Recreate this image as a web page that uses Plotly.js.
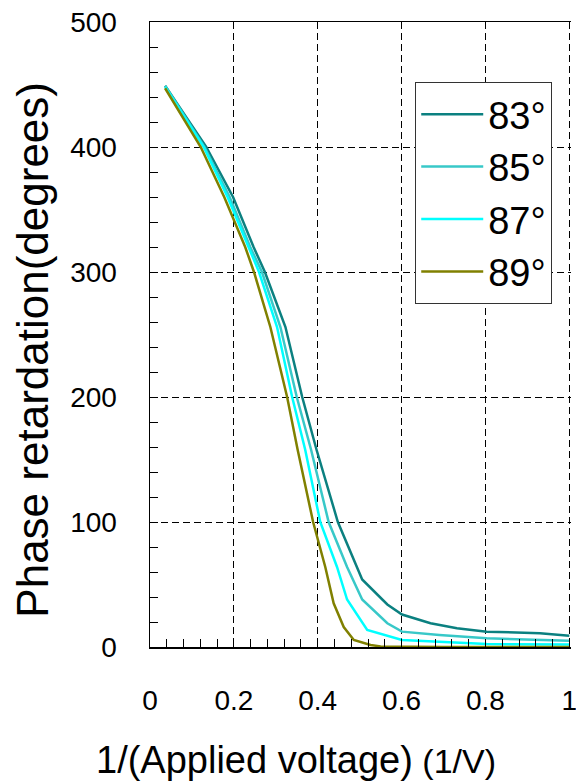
<!DOCTYPE html>
<html>
<head>
<meta charset="utf-8">
<script src="https://cdn.plot.ly/plotly-3.0.1.min.js"></script>
<style>html,body{margin:0;padding:0;background:#fff;}#chart{width:576px;height:782px;}</style>
</head>
<body>
<div id="chart"></div>
<script>
// Series names
const seriesNames = ["83°", "85°", "87°", "89°"];

// 83° curve
const x83 = [0.036, 0.080, 0.134, 0.198, 0.247, 0.274, 0.323, 0.363, 0.397, 0.448, 0.494, 0.506, 0.566, 0.601, 0.669, 0.732, 0.803, 0.930, 1.000];
const y83 = [449, 427, 400, 360, 320, 300, 256, 200, 158, 100, 64, 54, 34, 26, 19, 15, 12.3, 11, 9];

// 85° curve
const x85 = [0.036, 0.080, 0.130, 0.190, 0.239, 0.267, 0.311, 0.350, 0.384, 0.426, 0.470, 0.506, 0.566, 0.601, 0.690, 0.803, 1.000];
const y85 = [449, 426, 400, 360, 320, 300, 256, 200, 158, 100, 64, 38, 19, 12.3, 9.6, 7, 5];

// 87° curve
const x87 = [0.036, 0.080, 0.128, 0.185, 0.235, 0.260, 0.303, 0.339, 0.370, 0.406, 0.446, 0.470, 0.518, 0.601, 0.803, 1.000];
const y87 = [448, 425, 400, 360, 320, 300, 256, 200, 158, 100, 64, 38, 13.6, 5.6, 2.4, 2];

// 89° curve
const x89 = [0.036, 0.080, 0.121, 0.177, 0.227, 0.248, 0.287, 0.327, 0.352, 0.389, 0.418, 0.438, 0.462, 0.486, 0.526, 0.550, 0.700, 1.000];
const y89 = [447, 423, 400, 360, 320, 300, 256, 200, 158, 100, 64, 35, 16, 5.6, 1.6, 0.5, 0, 0];

const colors = ["#0b8080", "#38c8c8", "#00ffff", "#808000"];

const xTickVals = [0, 0.2, 0.4, 0.6, 0.8, 1];
const xTickText = ["0", "0.2", "0.4", "0.6", "0.8", "1"];
const yTickVals = [0, 100, 200, 300, 400, 500];
const yTickText = ["0", "100", "200", "300", "400", "500"];

const xTitle = "1/(Applied voltage)";
const xTitleUnit = "(1/V)";
const yTitle = "Phase retardation(degrees)";

const xs = [x83, x85, x87, x89];
const ys = [y83, y85, y87, y89];

const traces = seriesNames.map((n, i) => ({
  type: "scatter",
  mode: "lines",
  name: n,
  x: xs[i],
  y: ys[i],
  line: {color: colors[i], width: 2.5},
  legendgroup: "g" + i
}));

const font = "Liberation Sans, Arial, sans-serif";

const layout = {
  width: 576,
  height: 782,
  margin: {l: 150, r: 5, t: 22, b: 135},
  paper_bgcolor: "#ffffff",
  plot_bgcolor: "#ffffff",
  font: {family: font, color: "#000"},
  showlegend: true,
  legend: {
    x: 0.63, y: 0.904, xanchor: "left", yanchor: "top",
    bgcolor: "#ffffff",
    bordercolor: "#333333",
    borderwidth: 1,
    font: {family: font, size: 38, color: "#000"},
    itemwidth: 62,
    traceorder: "grouped",
    tracegroupgap: 0
  },
  xaxis: {
    range: [0, 1.004],
    tickvals: xTickVals,
    ticktext: xTickText,
    ticks: "inside",
    ticklen: 8,
    tickcolor: "#000",
    minor: {dtick: 0.04, ticks: "inside", ticklen: 8, tickcolor: "#000", showgrid: false},
    showline: true,
    linecolor: "#000",
    linewidth: 1.5,
    mirror: true,
    showgrid: true,
    gridcolor: "#000",
    gridwidth: 1,
    griddash: "7px,4px",
    zeroline: false,
    tickfont: {family: font, size: 28, color: "#000"},
    ticklabelstandoff: 28,
    ticklabeloverflow: "allow"
  },
  yaxis: {
    range: [0, 500],
    tickvals: yTickVals,
    ticktext: yTickText,
    ticks: "inside",
    ticklen: 8,
    tickcolor: "#000",
    minor: {dtick: 20, ticks: "inside", ticklen: 8, tickcolor: "#000", showgrid: false},
    showline: true,
    linecolor: "#000",
    linewidth: 1.5,
    mirror: false,
    showgrid: true,
    gridcolor: "#000",
    gridwidth: 1,
    griddash: "7px,4px",
    zeroline: false,
    tickfont: {family: font, size: 28, color: "#000"},
    ticklabelstandoff: 26
  },
  annotations: [
    {
      text: xTitle + "<span style=\"font-size:34px\"> " + xTitleUnit + "</span>",
      xref: "paper", yref: "paper",
      x: 0.347, y: -0.181,
      xanchor: "center", yanchor: "middle",
      showarrow: false,
      font: {family: font, size: 38, color: "#000"}
    },
    {
      text: yTitle,
      xref: "paper", yref: "paper",
      x: -0.279, y: 0.475,
      xanchor: "center", yanchor: "middle",
      textangle: -90,
      showarrow: false,
      font: {family: font, size: 44, color: "#000"}
    }
  ]
};

Plotly.newPlot("chart", traces, layout, {displayModeBar: false, staticPlot: true});
</script>
</body>
</html>
